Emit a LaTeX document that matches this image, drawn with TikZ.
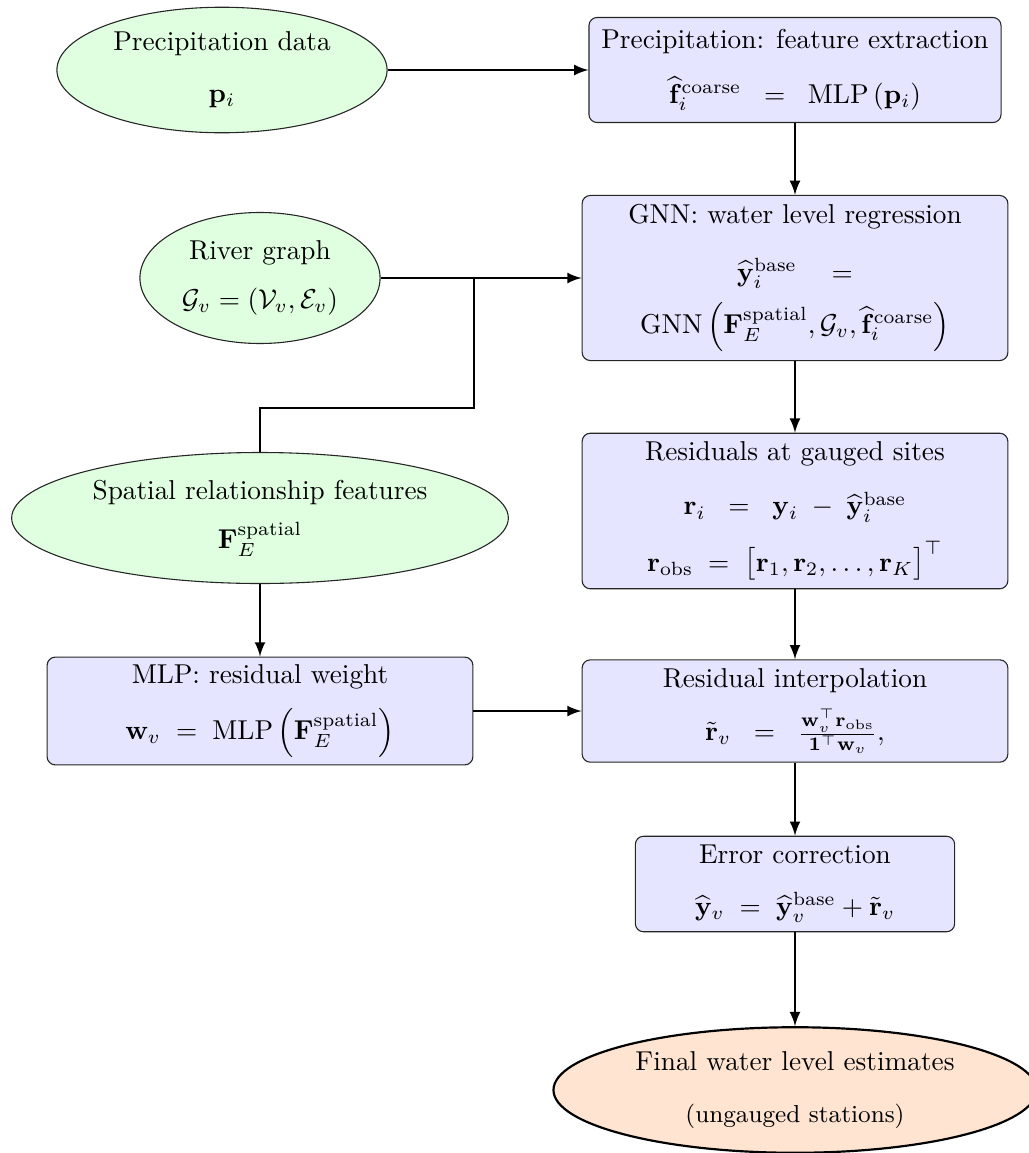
\documentclass[tikz,border=0pt]{standalone}
\usepackage{amsmath}
\usepackage{amssymb}
\usetikzlibrary{shapes.geometric}
\definecolor{inputgreen}{rgb}{0.88,1,0.88}
\definecolor{procblue}{rgb}{0.9,0.9,1}
\definecolor{outorange}{rgb}{1,0.9,0.82}

\tikzset{
  procbox/.style={draw=black!85, line width=0.4pt, fill=procblue,
    rounded corners=3pt, align=center, inner sep=2pt, minimum width=156pt},
  inputell/.style={ellipse, draw=black!85, line width=0.4pt, fill=inputgreen,
    align=center, inner sep=1pt},
  outell/.style={ellipse, draw=black, line width=0.8pt, fill=outorange,
    align=center, inner sep=1pt},
}

\begin{document}
\begin{tikzpicture}[>=latex, thick, x=0.01288cm, y=-0.01288cm]
\useasboundingbox (0,0) rectangle (1029,1153);

% Eingaben (gruen)
\node[inputell, minimum width=121pt, minimum height=46pt] (precip) at (222,70)
	{Precipitation data\\[7pt] $\mathbf{p}_i$};
\node[inputell, minimum width=88pt, minimum height=48pt] (river) at (260,278)
	{River graph\\[6pt] $\mathcal{G}_v = (\mathcal{V}_v, \mathcal{E}_v)$};
\node[inputell, minimum width=182pt, minimum height=48pt] (spatial) at (260,518)
	{Spatial relationship features\\[6pt] $\mathbf{F}_E^{\text{spatial}}$};

% Verarbeitungsschritte (blau)
\node[procbox, minimum width=151pt, minimum height=38.5pt] (featext) at (795,70)
	{Precipitation: feature extraction\\[8pt]
	 $\widehat{\mathbf{f}}_i^{\text{coarse}} \;\;=\;\; \mathrm{MLP}\left(\mathbf{p}_i\right)$};
\node[procbox, minimum height=60.5pt] (gnn) at (795,278)
	{GNN: water level regression\\[9pt]
	 $\widehat{\mathbf{y}}_i^{\text{base}} \quad=$\\[4pt]
	 $\mathrm{GNN}\left(\mathbf{F}_E^{\text{spatial}}, \mathcal{G}_v, \widehat{\mathbf{f}}_i^{\text{coarse}}\right)$};
\node[procbox, minimum height=57pt] (resid) at (795,511)
	{Residuals at gauged sites\\[8pt]
	 $\mathbf{r}_i \;\;=\;\; \mathbf{y}_i \;-\; \widehat{\mathbf{y}}_i^{\text{base}}$\\[6pt]
	 $\mathbf{r}_{\text{obs}} \;=\; \bigl[\mathbf{r}_1, \mathbf{r}_2, \ldots, \mathbf{r}_K\bigr]^{\top}$};
\node[procbox, minimum height=39.5pt] (mlpw) at (260,711)
	{MLP: residual weight\\[6pt]
	 $\mathbf{w}_v \;=\; \mathrm{MLP}\left(\mathbf{F}_E^{\text{spatial}}\right)$};
\node[procbox, minimum height=37.5pt] (interp) at (795,711)
	{Residual interpolation\\[5pt]
	 $\tilde{\mathbf{r}}_v \;\;=\;\; \frac{\mathbf{w}_v^{\top}\mathbf{r}_{\text{obs}}}{\mathbf{1}^{\top}\mathbf{w}_v},$};
\node[procbox, minimum width=117pt, minimum height=35pt] (correct) at (795,884)
	{Error correction\\[7pt]
	 $\widehat{\mathbf{y}}_v \;=\; \widehat{\mathbf{y}}_v^{\text{base}} + \tilde{\mathbf{r}}_v$};

% Ergebnis (orange)
\node[outell, minimum width=177pt, minimum height=46pt] (final) at (795,1090)
	{Final water level estimates\\[7pt] {\small (ungauged stations)}};

% Verbindungen
\coordinate (join) at (474,278);
\coordinate (bend) at (474,408);
\draw[->] (precip) -- (featext);
\draw[->] (featext) -- (gnn);
\draw[->] (river) -- (gnn);
\draw (spatial.north) |- (bend) -- (join);
\draw[->] (gnn) -- (resid);
\draw[->] (resid) -- (interp);
\draw[->] (spatial) -- (mlpw);
\draw[->] (mlpw) -- (interp);
\draw[->] (interp) -- (correct);
\draw[->] (correct) -- (final);

\end{tikzpicture}
\end{document}
